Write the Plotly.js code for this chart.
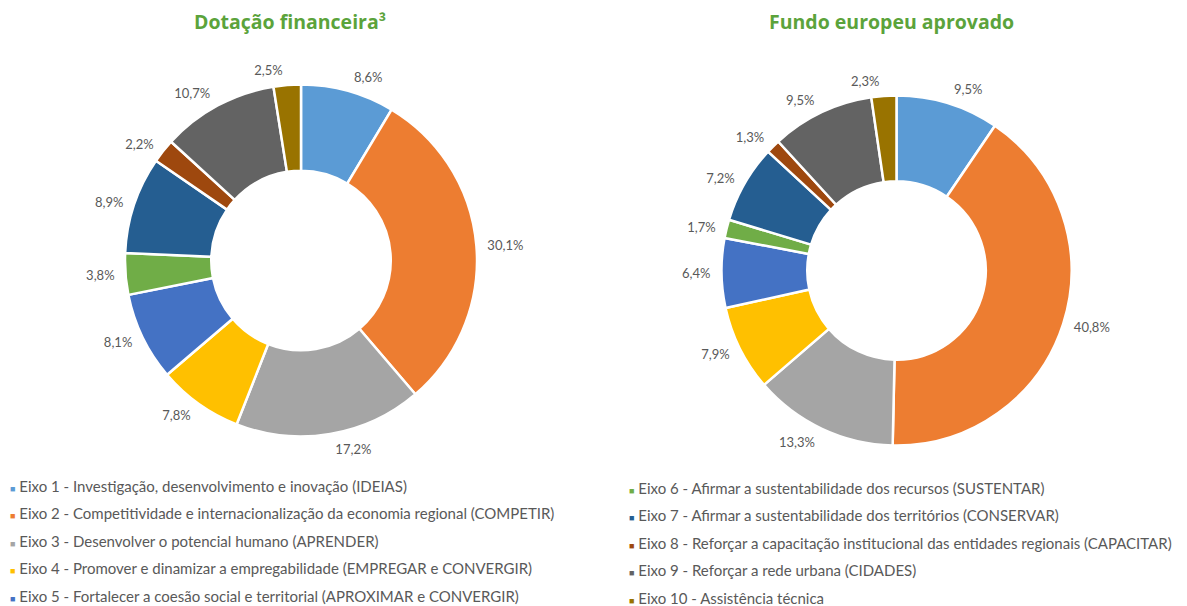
<!DOCTYPE html>
<html>
<head>
<meta charset="utf-8">
<script src="https://cdn.plot.ly/plotly-3.0.1.min.js"></script>
<style>html,body{margin:0;padding:0;background:#fff;}#chart{width:1187px;height:606px;}</style>
</head>
<body>
<div id="chart"></div>
<script>
const categories = [
  "Eixo 1 - Investigação, desenvolvimento e inovação (IDEIAS)",
  "Eixo 2 - Competitividade e internacionalização da economia regional (COMPETIR)",
  "Eixo 3 - Desenvolver o potencial humano (APRENDER)",
  "Eixo 4 - Promover e dinamizar a empregabilidade (EMPREGAR e CONVERGIR)",
  "Eixo 5 - Fortalecer a coesão social e territorial (APROXIMAR e CONVERGIR)",
  "Eixo 6 - Afirmar a sustentabilidade dos recursos (SUSTENTAR)",
  "Eixo 7 - Afirmar a sustentabilidade dos territórios (CONSERVAR)",
  "Eixo 8 - Reforçar a capacitação institucional das entidades regionais (CAPACITAR)",
  "Eixo 9 - Reforçar a rede urbana (CIDADES)",
  "Eixo 10 - Assistência técnica"
];
const dotacaoFinanceira = [8.6, 30.1, 17.2, 7.8, 8.1, 3.8, 8.9, 2.2, 10.7, 2.5];
const fundoEuropeu = [9.5, 40.8, 13.3, 7.9, 6.4, 1.7, 7.2, 1.3, 9.5, 2.3];
const colors = ["#5B9BD5","#ED7D31","#A5A5A5","#FFC000","#4472C4","#70AD47","#255E91","#9E480E","#636363","#997300"];
const titles = ["Dotação financeira³", "Fundo europeu aprovado"];

const W = 1187, H = 606;
const labelFont = {family: "Lato, 'Open Sans', sans-serif", size: 13, color: "#595959"};

function domainFor(cx, cy, r) {
  return {x: [(cx - r) / W, (cx + r) / W], y: [(H - cy - r) / H, (H - cy + r) / H]};
}

// visible donut (no text)
function donut(values, cx, cy, r) {
  return {
    type: "pie", labels: categories, values: values, sort: false,
    direction: "clockwise", rotation: 0, hole: 0.51,
    domain: domainFor(cx, cy, r),
    marker: {colors: colors, line: {color: "#ffffff", width: 2.5}},
    textinfo: "none", showlegend: false, hoverinfo: "label+value"
  };
}
// transparent, slightly larger pie that only carries the outside labels
function labelPie(values, cx, cy, r) {
  return {
    type: "pie", labels: categories, values: values, sort: false,
    direction: "clockwise", rotation: 0, hole: 0.9,
    domain: domainFor(cx, cy, r),
    marker: {colors: categories.map(() => "rgba(0,0,0,0)"), line: {width: 0}},
    textposition: "outside", texttemplate: "%{value:.1f}%",
    outsidetextfont: labelFont, showlegend: false, hoverinfo: "skip"
  };
}

const data = [
  labelPie(dotacaoFinanceira, 301, 260.5, 183),
  donut(dotacaoFinanceira, 301, 260.5, 176),
  labelPie(fundoEuropeu, 896.5, 270.5, 182),
  donut(fundoEuropeu, 896.5, 270.5, 175)
];

const annotations = [];
const titleFont = {family: "'Open Sans', sans-serif", size: 19.5, color: "#5BA33B", weight: 700};
annotations.push({text: titles[0], x: 290/W, y: 1 - 22/H, xref: "paper", yref: "paper", showarrow: false, font: titleFont, xanchor: "center", yanchor: "middle"});
annotations.push({text: titles[1], x: 891/W, y: 1 - 22/H, xref: "paper", yref: "paper", showarrow: false, font: titleFont, xanchor: "center", yanchor: "middle"});

const legFont = {family: "Lato, 'Open Sans', sans-serif", size: 15, color: "#595959"};
categories.forEach(function (c, i) {
  const col = i < 5 ? 0 : 1;
  const row = i % 5;
  const x = col === 0 ? 8 : 627;
  const y = (col === 0 ? 486 : 488) + row * 27.4;
  annotations.push({
    text: '<span style="color:' + colors[i] + ';font-size:9px">■</span> ' + c,
    x: x / W, y: 1 - y / H, xref: "paper", yref: "paper",
    xanchor: "left", yanchor: "middle", showarrow: false, font: legFont, align: "left"
  });
});

const layout = {
  width: W, height: H,
  margin: {l: 0, r: 0, t: 0, b: 0},
  paper_bgcolor: "#ffffff",
  separators: ",.",
  showlegend: false,
  annotations: annotations
};

Plotly.newPlot("chart", data, layout, {displayModeBar: false, staticPlot: true});
</script>
</body>
</html>
